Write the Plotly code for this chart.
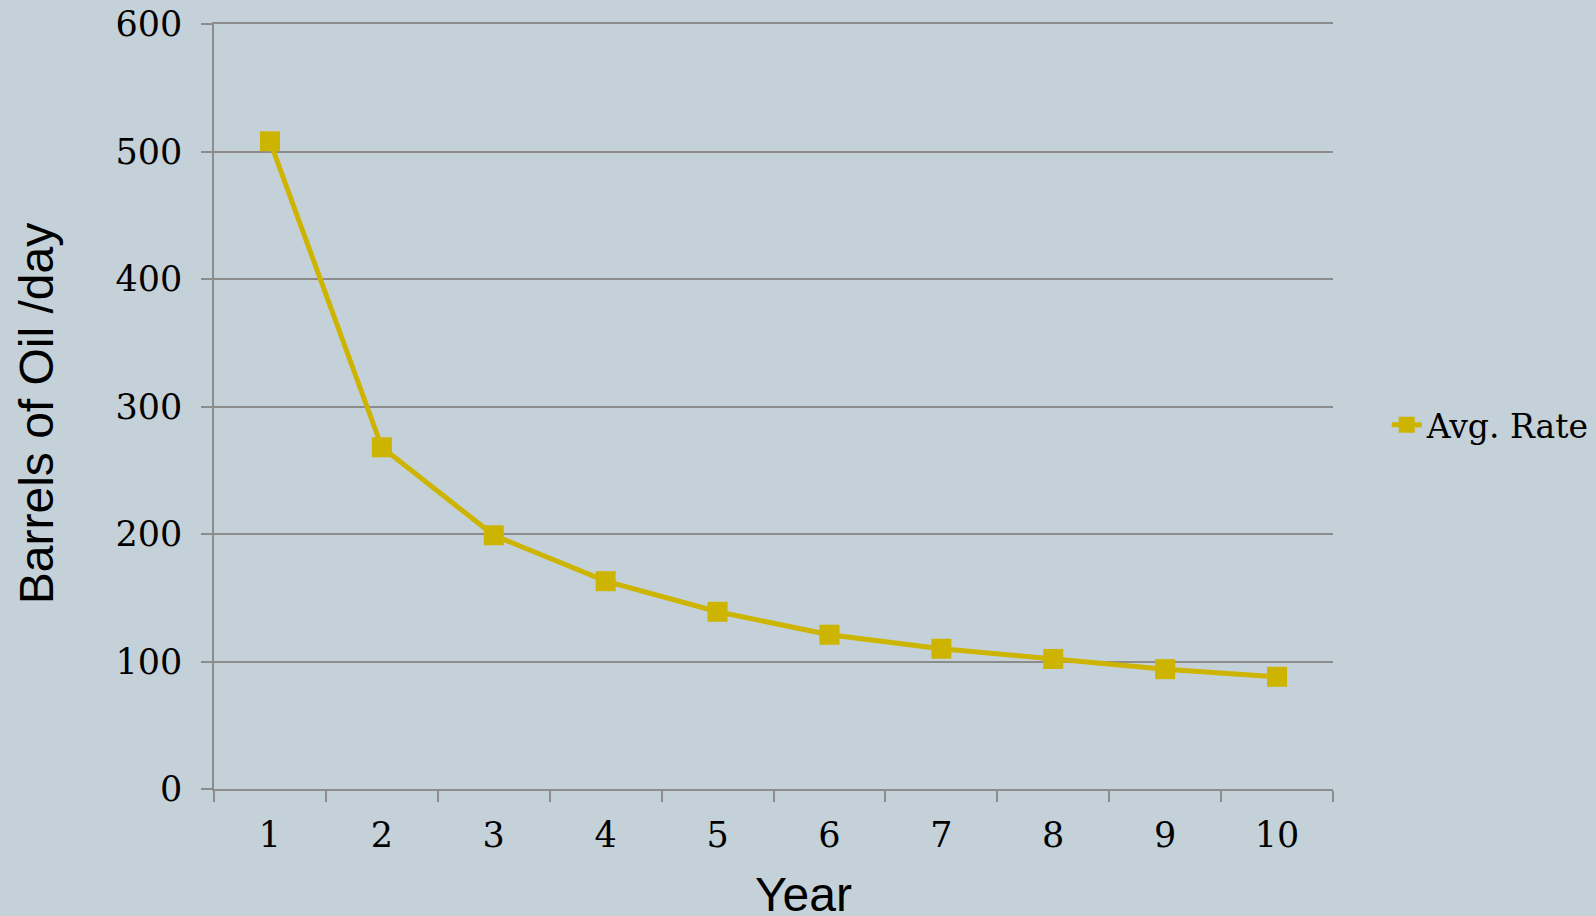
import plotly.graph_objects as go

# Average production rate per year
years = ["1", "2", "3", "4", "5", "6", "7", "8", "9", "10"]
avg_rate = [508, 268, 199, 163, 139, 121, 110, 102, 94, 88]
y_ticks = [0, 100, 200, 300, 400, 500, 600]

BG = "#c5d1d8"
GOLD = "#cdb400"
GRID = "#8c8c8c"
SERIF = "DejaVu Serif"
SANS = "Liberation Sans"

fig = go.Figure()
fig.add_trace(go.Scatter(
    x=years, y=avg_rate, name="Avg. Rate", mode="lines+markers",
    line=dict(color=GOLD, width=5),
    marker=dict(symbol="square", size=20, color=GOLD),
))

fig.update_layout(
    width=1596, height=916,
    paper_bgcolor=BG, plot_bgcolor=BG,
    margin=dict(l=214, r=263, t=24, b=127, autoexpand=False),
    showlegend=True,
    legend=dict(x=1.048, xanchor="left", y=0.476, yanchor="middle",
                font=dict(family=SERIF, size=33, color="black"),
                bgcolor="rgba(0,0,0,0)", itemwidth=30),
    annotations=[
        dict(text="Year", xref="paper", yref="paper", x=0.527, y=-0.1,
             xanchor="center", yanchor="top", showarrow=False,
             font=dict(family=SANS, size=48, color="black")),
        dict(text="Barrels of Oil /day", xref="paper", yref="paper",
             x=-0.159, y=0.49, xanchor="center", yanchor="middle",
             textangle=-90, showarrow=False,
             font=dict(family=SANS, size=48, color="black")),
    ],
)

fig.update_xaxes(
    type="category", range=[-0.5, 9.5], tickson="boundaries",
    ticks="outside", ticklen=11, tickcolor=GRID, tickwidth=1.5,
    showline=True, linecolor=GRID, linewidth=1.5, mirror=True,
    showgrid=False, automargin=False,
    tickfont=dict(family=SERIF, size=35, color="black"),
    ticklabelstandoff=14,
)
fig.update_yaxes(
    range=[0, 600], tickvals=y_ticks, ticks="outside", ticklen=11,
    tickcolor=GRID, tickwidth=1.5, showline=True, linecolor=GRID, linewidth=1.5,
    showgrid=True, gridcolor=GRID, gridwidth=1.5, zeroline=False,
    automargin=False,
    tickfont=dict(family=SERIF, size=35, color="black"),
    ticklabelstandoff=12,
)

fig.write_html("out.html")
